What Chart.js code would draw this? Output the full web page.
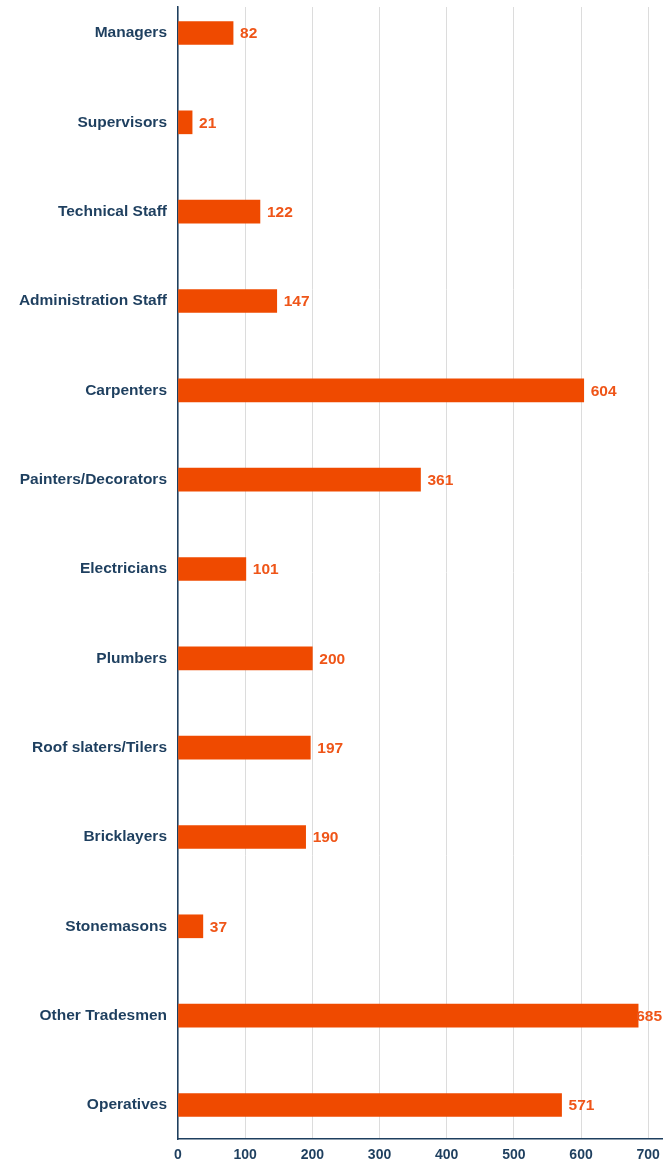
<!DOCTYPE html>
<html>
<head>
<meta charset="utf-8">
<script src="https://cdn.jsdelivr.net/npm/chart.js@4/dist/chart.umd.min.js"></script>
<style>
  html, body { margin: 0; padding: 0; background: #ffffff; }
  #wrap { position: relative; width: 663px; height: 1162px; }
</style>
</head>
<body>
<div id="wrap"><canvas id="chart" width="663" height="1162"></canvas></div>
<script>
// Workforce by occupation
const categories = [
  'Managers', 'Supervisors', 'Technical Staff', 'Administration Staff',
  'Carpenters', 'Painters/Decorators', 'Electricians', 'Plumbers',
  'Roof slaters/Tilers', 'Bricklayers', 'Stonemasons', 'Other Tradesmen', 'Operatives'
];
const values = [82, 21, 122, 147, 604, 361, 101, 200, 197, 190, 37, 685, 571];
const xTicks = [0, 100, 200, 300, 400, 500, 600, 700];

const NAVY = '#1e3f5f';
const ORANGE = '#ef4a00';
const LABEL_ORANGE = '#ef5518';
const FONT = '"Liberation Sans", Arial, Helvetica, sans-serif';

// Value labels at the end of each bar, kept inside the canvas
const valueLabels = {
  id: 'valueLabels',
  afterDatasetsDraw(chart) {
    const ctx = chart.ctx;
    const meta = chart.getDatasetMeta(0);
    ctx.save();
    ctx.font = 'bold 15.5px ' + FONT;
    ctx.fillStyle = LABEL_ORANGE;
    ctx.textAlign = 'left';
    ctx.textBaseline = 'middle';
    meta.data.forEach((bar, i) => {
      const text = String(values[i]);
      const w = ctx.measureText(text).width;
      const x = Math.min(bar.x + 7, chart.width - w - 1);
      ctx.fillText(text, x, bar.y + 1);
    });
    ctx.restore();
  }
};

new Chart(document.getElementById('chart'), {
  type: 'bar',
  data: {
    datasets: [{
      data: values.map((v, i) => ({ x: v, y: i })),
      backgroundColor: ORANGE,
      borderWidth: 0,
      barThickness: 23
    }]
  },
  options: {
    indexAxis: 'y',
    responsive: false,
    animation: false,
    layout: { padding: { top: 7, right: 0, bottom: 0, left: 0 } },
    plugins: { legend: { display: false }, tooltip: { enabled: false } },
    scales: {
      x: {
        type: 'linear',
        min: 0,
        max: 722,
        afterBuildTicks(scale) { scale.ticks = xTicks.map(v => ({ value: v })); },
        afterFit(scale) { scale.height = 23; scale.paddingLeft = 0; scale.paddingRight = 0; },
        grid: { color: '#dcdcdc', lineWidth: 1, drawTicks: false },
        border: { color: NAVY, width: 1.5 },
        ticks: {
          color: NAVY,
          padding: 8,
          font: { family: FONT, size: 14, weight: 'bold' }
        }
      },
      y: {
        type: 'linear',
        reverse: true,
        offset: false,
        min: -0.291,
        max: 12.381,
        afterBuildTicks(scale) { scale.ticks = categories.map((_, i) => ({ value: i })); },
        afterFit(scale) { scale.width = 178; scale.paddingTop = 0; scale.paddingBottom = 0; },
        grid: { display: false, drawTicks: false },
        border: { color: NAVY, width: 1.5 },
        ticks: {
          color: NAVY,
          padding: 11,
          font: { family: FONT, size: 15.5, weight: 'bold' },
          callback: (v) => categories[v]
        }
      }
    }
  },
  plugins: [valueLabels]
});
</script>
</body>
</html>
